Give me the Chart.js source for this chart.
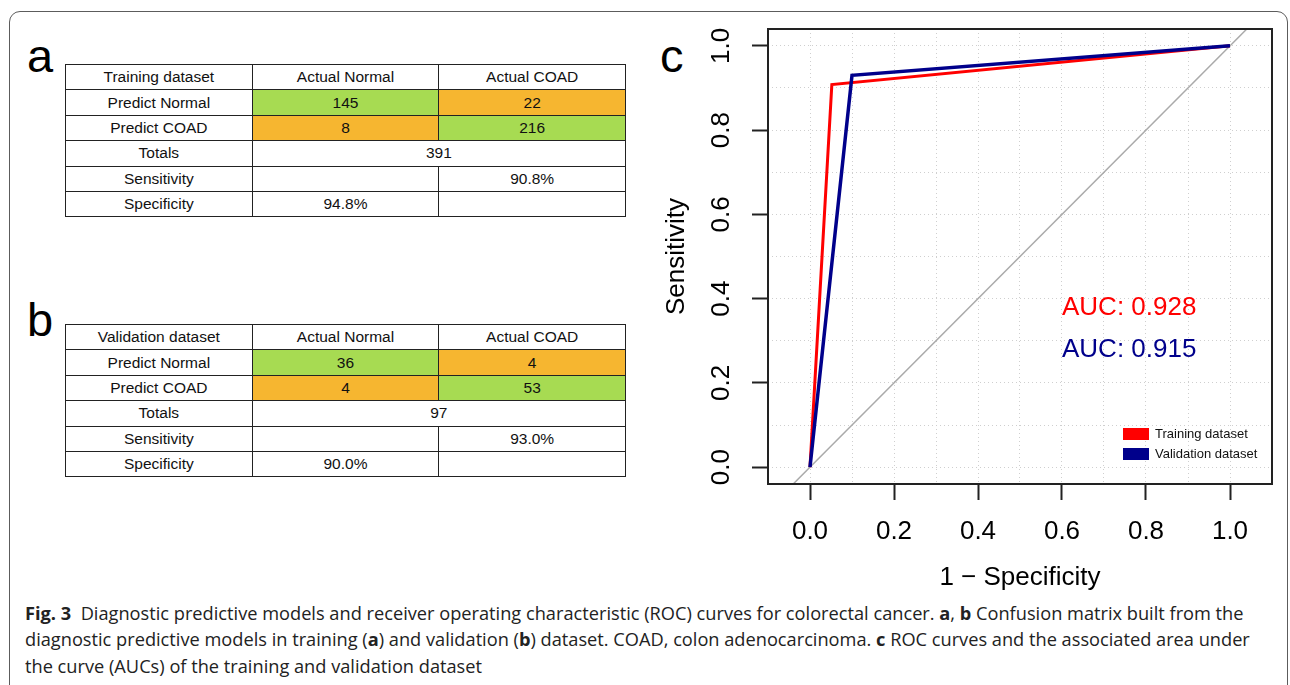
<!DOCTYPE html>
<html>
<head>
<meta charset="utf-8">
<script src="https://cdn.jsdelivr.net/npm/chart.js"></script>
<style>
  html, body { margin: 0; padding: 0; background: #fff; }
  body { width: 1290px; height: 685px; overflow: hidden; position: relative;
         font-family: "Liberation Sans", Arial, sans-serif; color: #000; }
  .frame { position: absolute; left: 9px; top: 11px; width: 1279px; height: 740px;
           border: 1.3px solid #5c5c5c; border-radius: 11px; box-sizing: border-box; }
  .panel { position: absolute; font-size: 47px; line-height: 47px; }
  table.cm { position: absolute; border-collapse: collapse; table-layout: fixed;
             width: 561px; font-size: 15.5px; }
  table.cm td { border: 1px solid #222; height: 24.4px; padding: 0;
                text-align: center; vertical-align: middle; color: #111; }
  td.tp { background: #a7db52; }
  td.fp { background: #f6b630; }
  #plot { position: absolute; left: 640px; top: 0; width: 650px; height: 600px; }
  .caption { position: absolute; left: 25px; top: 600px; font-family: "Open Sans", sans-serif;
             font-size: 18px; line-height: 26.3px; color: #222; white-space: nowrap;
             transform-origin: 0 0; }
</style>
</head>
<body>
<div class="frame"></div>
<div class="panel" style="left:27px; top:32px;">a</div>
<div class="panel" style="left:27px; top:296px;">b</div>
<div class="panel" style="left:660px; top:32px;">c</div>
<table class="cm" id="tabA" style="left:65px; top:64px;"></table>
<table class="cm" id="tabB" style="left:65px; top:324px;"></table>
<div id="plot"><canvas id="roc"></canvas></div>
<div class="caption" id="caption">
  <div id="capLine1"><b>Fig. 3</b>&nbsp; Diagnostic predictive models and receiver operating characteristic (ROC) curves for colorectal cancer. <b>a</b>, <b>b</b> Confusion matrix built from the</div>
  <div>diagnostic predictive models in training (<b>a</b>) and validation (<b>b</b>) dataset. COAD, colon adenocarcinoma. <b>c</b> ROC curves and the associated area under</div>
  <div>the curve (AUCs) of the training and validation dataset</div>
</div>
<script>
// confusion matrices
const colHeads = ['Actual Normal', 'Actual COAD'];
const rowHeads = ['Predict Normal', 'Predict COAD'];
const trainCounts = [[145, 22], [8, 216]];
const validCounts = [[36, 4], [4, 53]];
const totals = [391, 97];
const sensitivity = ['90.8%', '93.0%'];
const specificity = ['94.8%', '90.0%'];

// ROC curves (x = 1 - specificity, y = sensitivity)
const trainFpr = [0, 0.052, 1];
const trainTpr = [0, 0.908, 1];
const validFpr = [0, 0.100, 1];
const validTpr = [0, 0.930, 1];
const chanceLine = [-0.04, 1.04];
const seriesNames = ['Training dataset', 'Validation dataset'];
const aucLabels = ['AUC: 0.928', 'AUC: 0.915'];
const gridValues = [0, 0.1, 0.2, 0.3, 0.4, 0.5, 0.6, 0.7, 0.8, 0.9, 1.0];
const tickLabels = ['0.0', '0.2', '0.4', '0.6', '0.8', '1.0'];

function fillTable(id, title, counts, total, sens, spec) {
  const rows = [
    '<td>' + title + '</td><td>' + colHeads[0] + '</td><td>' + colHeads[1] + '</td>',
    '<td>' + rowHeads[0] + '</td><td class="tp">' + counts[0][0] + '</td><td class="fp">' + counts[0][1] + '</td>',
    '<td>' + rowHeads[1] + '</td><td class="fp">' + counts[1][0] + '</td><td class="tp">' + counts[1][1] + '</td>',
    '<td>Totals</td><td colspan="2">' + total + '</td>',
    '<td>Sensitivity</td><td></td><td>' + sens + '</td>',
    '<td>Specificity</td><td>' + spec + '</td><td></td>'
  ];
  document.getElementById(id).innerHTML = rows.map(r => '<tr>' + r + '</tr>').join('');
}
fillTable('tabA', 'Training dataset', trainCounts, totals[0], sensitivity[0], specificity[0]);
fillTable('tabB', 'Validation dataset', validCounts, totals[1], sensitivity[1], specificity[1]);

// squeeze caption to the figure width
const cap = document.getElementById('caption');
const w = document.getElementById('capLine1').scrollWidth;
cap.style.transform = 'scaleX(' + (1225 / w) + ')';

const pts = (xs, ys) => xs.map((v, i) => ({ x: v, y: ys[i] }));
const isMajor = v => Math.round(v * 10) % 2 === 0;
const labelFor = (v) => isMajor(v) ? tickLabels[Math.round(v * 5)] : '';

const overlay = {
  id: 'overlay',
  afterDatasetsDraw(chart) {
    const { ctx, chartArea: a, scales: { x, y } } = chart;
    const ds = chart.data.datasets;
    ctx.save();
    // AUC text
    ctx.font = '26px "Liberation Sans", Arial, sans-serif';
    ctx.textAlign = 'left';
    ctx.textBaseline = 'middle';
    const aucY = [0.378, 0.278];
    aucLabels.forEach((t, i) => {
      ctx.fillStyle = ds[i].borderColor;
      ctx.fillText(t, x.getPixelForValue(0.6), y.getPixelForValue(aucY[i]));
    });
    // legend, bottom right
    ctx.font = '13px "Liberation Sans", Arial, sans-serif';
    seriesNames.forEach((name, i) => {
      const top = a.bottom - 56 + i * 20;
      ctx.fillStyle = ds[i].borderColor;
      ctx.fillRect(a.right - 149, top, 26, 12);
      ctx.fillStyle = '#111';
      ctx.fillText(name, a.right - 117, top + 6.5);
    });
    // box
    ctx.strokeStyle = '#222';
    ctx.lineWidth = 2;
    ctx.strokeRect(a.left, a.top, a.right - a.left, a.bottom - a.top);
    ctx.restore();
  }
};

const axisFont = { family: '"Liberation Sans", Arial, sans-serif', size: 26 };
const gridOpts = {
  color: '#cfcfcf',
  lineWidth: 1,
  tickLength: 16,
  tickWidth: 2,
  tickColor: c => (c.tick && isMajor(c.tick.value)) ? '#222' : 'rgba(0,0,0,0)'
};

new Chart(document.getElementById('roc'), {
  type: 'scatter',
  data: {
    datasets: [{
      label: seriesNames[0],
      data: pts(trainFpr, trainTpr),
      showLine: true,
      borderColor: '#ff0000',
      borderWidth: 3,
      pointRadius: 0,
      order: 1
    }, {
      label: seriesNames[1],
      data: pts(validFpr, validTpr),
      showLine: true,
      borderColor: '#00008b',
      borderWidth: 3.5,
      pointRadius: 0,
      order: 0
    }, {
      label: 'chance',
      data: pts(chanceLine, chanceLine),
      showLine: true,
      borderColor: '#aaaaaa',
      borderWidth: 1.5,
      pointRadius: 0,
      clip: 0,
      order: 2
    }]
  },
  options: {
    responsive: true,
    maintainAspectRatio: false,
    animation: false,
    devicePixelRatio: 1,
    layout: { padding: { top: 29, right: 18, left: 0, bottom: 0 } },
    plugins: { legend: { display: false }, tooltip: { enabled: false } },
    scales: {
      x: {
        type: 'linear',
        min: -0.1,
        max: 1.1,
        afterBuildTicks: s => { s.ticks = gridValues.map(v => ({ value: v })); },
        afterFit: s => { s.height = 116; },
        grid: gridOpts,
        border: { display: false, dash: [1, 3] },
        ticks: {
          autoSkip: false, maxRotation: 0, padding: 16,
          color: '#000', font: axisFont,
          callback: v => labelFor(v)
        },
        title: { display: true, text: '1 \u2212 Specificity', color: '#000', font: axisFont,
                 padding: { top: 0, bottom: 7 } }
      },
      y: {
        type: 'linear',
        min: -0.04,
        max: 1.04,
        afterBuildTicks: s => { s.ticks = gridValues.map(v => ({ value: v })); },
        afterFit: s => { s.width = 128; },
        grid: gridOpts,
        border: { display: false, dash: [1, 3] },
        ticks: {
          autoSkip: false, minRotation: 90, maxRotation: 90, crossAlign: 'center', padding: 12,
          color: '#000', font: axisFont,
          callback: v => labelFor(v)
        },
        title: { display: true, text: 'Sensitivity', color: '#000', font: axisFont,
                 padding: { top: 21, bottom: 0 } }
      }
    }
  },
  plugins: [overlay]
});
</script>
</body>
</html>
